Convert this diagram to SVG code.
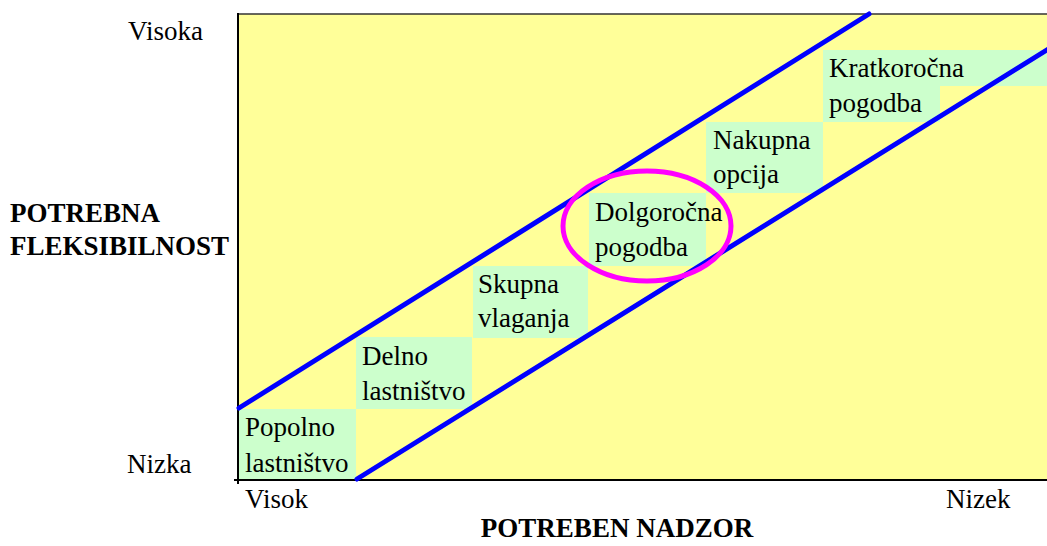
<svg xmlns="http://www.w3.org/2000/svg" width="1047" height="546" viewBox="0 0 1047 546">
<style>
text{font-family:"Liberation Serif","Times New Roman",serif;font-size:27px;fill:#000}
.b{font-weight:bold}
.box{fill:#CCFFCC}
.blue{stroke:#0000FF;stroke-width:5;stroke-linecap:round;fill:none}
</style>
<rect x="0" y="0" width="1047" height="546" fill="#fff"/>
<g id="plot">
<rect x="238" y="14" width="809" height="466" fill="#FFFF99"/>
<line x1="238" y1="14" x2="1047" y2="14" stroke="#333" stroke-width="1.5"/>
<line x1="238" y1="13" x2="238" y2="484" stroke="#000" stroke-width="2"/>
<line x1="234" y1="480" x2="1047" y2="480" stroke="#000" stroke-width="2"/>
</g>
<g id="node-popolno">
<rect class="box" x="239" y="409" width="117" height="70"/>
<text x="245" y="436">Popolno</text>
<text x="245" y="472">lastništvo</text>
</g>
<g id="node-delno">
<rect class="box" x="356" y="337" width="116" height="72"/>
<text x="362" y="365">Delno</text>
<text x="362" y="400">lastništvo</text>
</g>
<g id="node-skupna">
<rect class="box" x="473" y="266" width="115" height="72"/>
<text x="478" y="293">Skupna</text>
<text x="478" y="327">vlaganja</text>
</g>
<g id="node-dolgorocna">
<rect class="box" x="589" y="193" width="117" height="73"/>
<text x="595" y="221">Dolgoročna</text>
<text x="595" y="256">pogodba</text>
</g>
<g id="node-nakupna">
<rect class="box" x="706" y="122" width="117" height="71"/>
<text x="713" y="149">Nakupna</text>
<text x="713" y="183">opcija</text>
</g>
<g id="node-kratkorocna">
<rect class="box" x="823" y="50" width="117" height="72"/>
<rect class="box" x="940" y="50" width="107" height="36"/>
<text x="829" y="77">Kratkoročna</text>
<text x="829" y="112">pogodba</text>
</g>
<g id="connectors">
<line class="blue" x1="239" y1="408" x2="869" y2="14"/>
<line class="blue" x1="357" y1="479" x2="1050" y2="48"/>
<ellipse cx="647" cy="226" rx="84" ry="55" fill="none" stroke="#FF00FF" stroke-width="5"/>
</g>
<g id="labels">
<text x="128" y="40">Visoka</text>
<text x="127" y="473">Nizka</text>
<text x="245" y="508">Visok</text>
<text x="946" y="508">Nizek</text>
<text class="b" x="10" y="222">POTREBNA</text>
<text class="b" x="10" y="255">FLEKSIBILNOST</text>
<text class="b" x="617" y="537" text-anchor="middle">POTREBEN NADZOR</text>
</g>
</svg>
